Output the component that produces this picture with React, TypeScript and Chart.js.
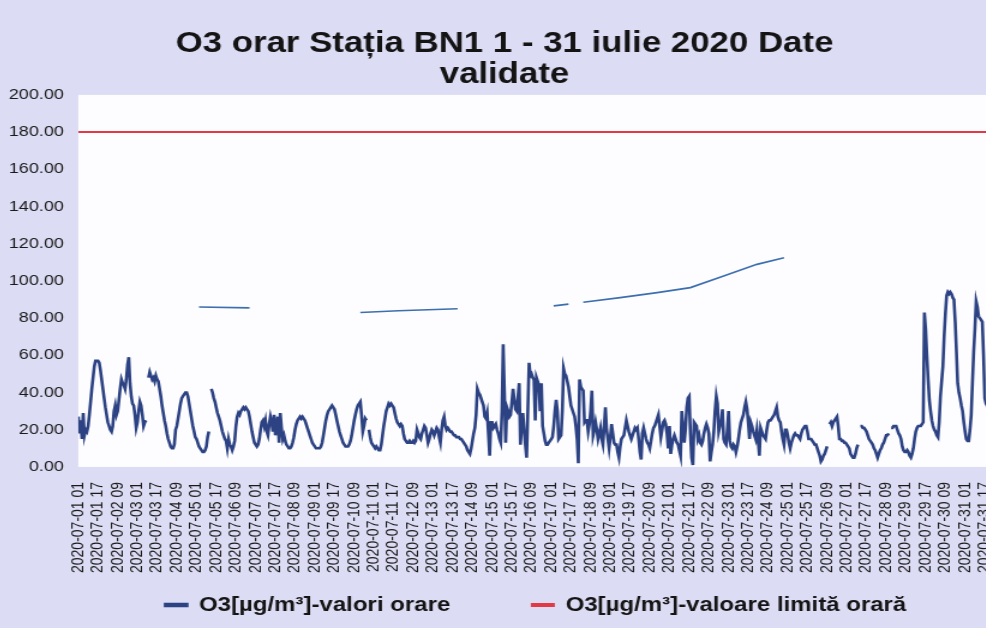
import React, { useEffect, useRef } from 'react';
import { Chart, registerables } from 'chart.js';

Chart.register(...registerables);

// Hourly O3 values [µg/m³], one array per day (hours 01..24)
const day01 = [27, 18, 25, 15, 29, 17, 20, 19, 22, 28, 35, 42, 48, 54, 57, 57, 57, 56, 52, 47, 42, 37, 32, 28];
const day02 = [24, 22, 20, 19, 22, 30, 33, 28, 30, 36, 42, 47, 45, 44, 42, 47, 55, 59, 45, 38, 34, 33, 28, 21];
const day03 = [24, 30, 35, 33, 28, 22, 24, 25, null, 48, 51, 49, 47, 48, 46, 49, 47, 46, 42, 38, 33, 29, 25, 22];
const day04 = [18, 15, 13, 11, 10, 10, 12, 20, 22, 26, 30, 34, 37, 38, 39, 40, 40, 38, 34, 30, 26, 22, 19, 16];
const day05 = [15, 13, 11, 10, 9, 8, 8, 9, 11, 16, 19, null, 42, 40, 37, 35, 32, 29, 27, 25, 22, 19, 17, 15];
const day06 = [14, 10, 15, 12, 11, 9, 11, 14, 22, 27, 29, 28, 30, 31, 32, 31, 32, 31, 30, 27, 23, 19, 16, 13];
const day07 = [12, 11, 12, 15, 20, 24, 25, 22, 25, 19, 17, 23, 27, 24, 19, 28, 17, 22, 27, 13, 29, 21, 15, 17];
const day08 = [14, 12, 11, 10, 10, 11, 13, 16, 20, 23, 25, 26, 27, 26, 27, 26, 25, 23, 21, 19, 17, 15, 13, 12];
const day09 = [11, 10, 10, 10, 10, 11, 13, 17, 21, 25, 28, 30, 31, 32, 33, 32, 31, 28, 25, 22, 19, 17, 15, 13];
const day10 = [12, 11, 11, 11, 12, 14, 17, 21, 25, 28, 31, 33, 34, 35, 28, 19, 22, 26, 25, null, 20, 16, 13, 12];
const day11 = [11, 10, 11, 10, 9, 9, 12, 17, 22, 26, 30, 32, 34, 33, 34, 33, 32, 29, 26, 24, 23, 22, 23, 22];
const day12 = [18, 15, 14, 13, 13, 14, 13, 13, 14, 13, 14, 20, 18, 16, 15, 18, 20, 22, 21, 17, 13, 15, 18, 20];
const day13 = [19, 17, 19, 21, 20, 16, 13, 20, 25, 27, 22, 20, 21, 20, 19, 19, 18, 17, 17, 16, 16, 16, 15, 15];
const day14 = [14, 13, 12, 11, 9, 8, 7, 10, 14, 18, 21, 28, 42, 40, 39, 37, 35, 33, 27, 26, 29, 18, 6, 24];
const day15 = [24, 21, 22, 23, 20, 18, 15, 13, 30, 66, 40, 13, 32, 30, 27, 28, 35, 42, 36, 31, 30, 38, 45, 12];
const day16 = [22, 29, 20, 12, 5, 30, 56, 49, 50, 48, 47, 25, 48, 46, 44, 30, 45, 22, 18, 14, 12, 12, 13, 14];
const day17 = [15, 16, 22, 30, 36, 30, 15, 16, 17, 30, 53, 50, 49, 46, 43, 38, 33, 31, 29, 27, 22, 15, 2, 47];
const day18 = [43, 42, 41, 24, 25, 25, 19, 23, 30, 41, 17, 20, 24, 20, 15, 18, 21, 15, 12, 22, 32, 20, 15, 10];
const day19 = [16, 23, 18, 13, 12, 12, 8, 5, 11, 15, 16, 17, 21, 25, 22, 19, 17, 15, 17, 19, 21, 20, 21, 15];
const day20 = [8, 4, 18, 21, 18, 15, 13, 12, 10, 14, 18, 21, 22, 24, 26, 28, 22, 16, 20, 24, 25, 23, 18, 10];
const day21 = [22, 7, 12, 15, 17, 15, 13, 12, 9, 6, 30, 22, 13, 20, 32, 37, 38, 18, 5, 1, 24, 23, 22, 15];
const day22 = [17, 13, 12, 14, 18, 21, 23, 21, 18, 3, 8, 12, 19, 30, 38, 34, 19, 22, 24, 31, 15, 13, 12, 20];
const day23 = [30, 14, 11, 10, 12, 11, 8, 11, 15, 20, 24, 26, 28, 32, 35, 31, 24, 15, 24, 22, 19, 17, 15, 20];
const day24 = [14, 6, 21, 19, 17, 16, 15, 20, 24, 25, 25, 26, 27, 28, 30, 32, 27, 25, 24, 19, 15, 12, 20, 20];
const day25 = [17, 13, 10, 13, 15, 17, 18, 17, 17, 16, 15, 18, 20, 21, 22, 22, 19, 15, 15, 15, 14, 13, 12, 12];
const day26 = [10, 8, 6, 3, 4, 6, 7, 9, 11, null, 23, 24, 22, 24, 25, 26, 27, 22, 15, 15, 14, 14, 13, 13];
const day27 = [12, 11, 10, 7, 6, 5, 5, 7, 10, 12, null, 22, 22, 21, 21, 20, 19, 17, 15, 14, 13, 12, 10, 9];
const day28 = [7, 5, 7, 9, 10, 12, 13, 15, 17, 17, 18, null, 21, 21, 22, 22, 22, 20, 18, 17, 15, 11, 9, 8];
const day29 = [8, 9, 8, 6, 5, 7, 10, 15, 19, 21, 22, 22, 22, 23, 24, 83, 74, 60, 47, 36, 30, 25, 22, 20];
const day30 = [19, 17, 16, 24, 38, 46, 54, 70, 82, 92, 94, 93, 94, 93, 91, 90, 78, 62, 45, 40, 37, 33, 30, 24];
const day31 = [19, 15, 14, 14, 20, 28, 45, 62, 74, 89, 86, 81, 80, 79, 78, 60, 37, 34, 33, 32, 31, 30, 29, 28];

const hourlyO3: (number | null)[] = [
  ...day01, ...day02, ...day03, ...day04, ...day05, ...day06, ...day07, ...day08,
  ...day09, ...day10, ...day11, ...day12, ...day13, ...day14, ...day15, ...day16,
  ...day17, ...day18, ...day19, ...day20, ...day21, ...day22, ...day23, ...day24,
  ...day25, ...day26, ...day27, ...day28, ...day29, ...day30, ...day31,
];

// Hourly limit value
const limitValue = 180;
const limitHours = [0, 743];

// Faint trace visible across the plot (hour index, value)
const traceHours = [98, 139, 150, 229, 260, 308, 330, 386, 398, 404, 410, 440, 470, 497, 524, 551, 573];
const traceValues = [86, 85.5, null, 83, 84, 85, null, 86.6, 87.5, null, 88.5, 91, 93.7, 96.4, 102.6, 108.9, 112.4];

// Category tick positions (hour index) and their labels
const tickHours = [0, 16, 32, 48, 64, 80, 96, 112, 128, 144, 160, 176, 192, 208, 224, 240, 256, 272, 288, 304,
  320, 336, 352, 368, 384, 400, 416, 432, 448, 464, 480, 496, 512, 528, 544, 560, 576, 592, 608, 624, 640, 656,
  672, 688, 704, 720, 736];
const tickLabels = [
  '2020-07-01 01', '2020-07-01 17', '2020-07-02 09', '2020-07-03 01', '2020-07-03 17', '2020-07-04 09',
  '2020-07-05 01', '2020-07-05 17', '2020-07-06 09', '2020-07-07 01', '2020-07-07 17', '2020-07-08 09',
  '2020-07-09 01', '2020-07-09 17', '2020-07-10 09', '2020-07-11 01', '2020-07-11 17', '2020-07-12 09',
  '2020-07-13 01', '2020-07-13 17', '2020-07-14 09', '2020-07-15 01', '2020-07-15 17', '2020-07-16 09',
  '2020-07-17 01', '2020-07-17 17', '2020-07-18 09', '2020-07-19 01', '2020-07-19 17', '2020-07-20 09',
  '2020-07-21 01', '2020-07-21 17', '2020-07-22 09', '2020-07-23 01', '2020-07-23 17', '2020-07-24 09',
  '2020-07-25 01', '2020-07-25 17', '2020-07-26 09', '2020-07-27 01', '2020-07-27 17', '2020-07-28 09',
  '2020-07-29 01', '2020-07-29 17', '2020-07-30 09', '2020-07-31 01', '2020-07-31 17',
];

const titleLines = ['O3 orar Stația BN1 1 - 31 iulie 2020 Date', 'validate'];
const seriesNames = ['O3[µg/m³]-valori orare', 'O3[µg/m³]-valoare limită orară'];

const FONT = "'Liberation Sans', Arial, Helvetica, sans-serif";

const plotBackground = {
  id: 'plotBackground',
  beforeDraw(chart: any) {
    const { ctx, chartArea } = chart;
    ctx.save();
    ctx.fillStyle = '#fdfdff';
    ctx.fillRect(chartArea.left, chartArea.top, chartArea.right - chartArea.left, chartArea.bottom - chartArea.top);
    ctx.restore();
  },
};

export default function App() {
  const canvasRef = useRef<HTMLCanvasElement | null>(null);

  useEffect(() => {
    const canvas = canvasRef.current;
    if (!canvas) return;
    const chart = new Chart(canvas, {
      type: 'line',
      data: {
        datasets: [
          {
            label: seriesNames[0],
            data: hourlyO3.map((v, i) => ({ x: i, y: v })),
            borderColor: '#2c4283',
            backgroundColor: '#2c4283',
            borderWidth: 2.6,
            pointRadius: 0,
            spanGaps: false,
          },
          {
            label: seriesNames[1],
            data: limitHours.map((h) => ({ x: h, y: limitValue })),
            borderColor: '#e23a44',
            backgroundColor: '#e23a44',
            borderWidth: 2,
            pointRadius: 0,
          },
          {
            label: 'trace',
            data: traceHours.map((h, i) => ({ x: h, y: traceValues[i] })),
            borderColor: '#3d6fae',
            backgroundColor: '#3d6fae',
            borderWidth: 1.6,
            pointRadius: 0,
            spanGaps: false,
          },
        ],
      },
      options: {
        responsive: false,
        animation: false,
        devicePixelRatio: 1,
        layout: { autoPadding: false, padding: { left: 7, right: 7, top: 0, bottom: 3 } },
        plugins: {
          title: {
            display: true,
            text: titleLines,
            color: '#141414',
            font: { family: FONT, size: 29, weight: 'bold', lineHeight: 1.05 },
            padding: { top: 29, bottom: 5 },
          },
          legend: {
            position: 'bottom',
            fullSize: false,
            labels: {
              boxWidth: 18,
              boxHeight: 2,
              color: '#141414',
              font: { family: FONT, size: 20, weight: 'bold' },
              padding: 7,
              filter: (item: any) => item.datasetIndex < 2,
              generateLabels: (chart: any) => {
                const base = Chart.defaults.plugins.legend.labels.generateLabels(chart);
                return base.map((item: any) =>
                  item.datasetIndex === 0 ? { ...item, text: item.text + '           ' } : item
                );
              },
            },
          },
          tooltip: { enabled: false },
        },
        scales: {
          x: {
            type: 'linear',
            min: 0,
            max: 743,
            grid: { display: false, drawTicks: false },
            border: { display: false },
            afterBuildTicks: (axis: any) => {
              axis.ticks = tickHours.map((v) => ({ value: v }));
            },
            ticks: {
              autoSkip: false,
              minRotation: 90,
              maxRotation: 90,
              padding: 15,
              color: '#1a1a1a',
              font: { family: FONT, size: 14 },
              callback: (value: any) => {
                const idx = tickHours.indexOf(Number(value));
                return idx >= 0 ? tickLabels[idx] : '';
              },
            },
          },
          y: {
            min: 0,
            max: 200,
            grid: { display: false, drawTicks: false },
            border: { display: false },
            ticks: {
              stepSize: 20,
              padding: 12,
              color: '#1a1a1a',
              font: { family: FONT, size: 15 },
              callback: (value: any) => Number(value).toFixed(2),
            },
          },
        },
      },
      plugins: [plotBackground],
    });
    return () => chart.destroy();
  }, []);

  return (
    <div
      style={{
        position: 'fixed',
        left: 0,
        top: 0,
        width: '986px',
        height: '628px',
        overflow: 'hidden',
        background: '#dcdcf4',
      }}
    >
      <canvas
        ref={canvasRef}
        width={864}
        height={628}
        style={{ position: 'absolute', left: '-14px', top: 0, width: '1037px', height: '628px', display: 'block' }}
      />
    </div>
  );
}
